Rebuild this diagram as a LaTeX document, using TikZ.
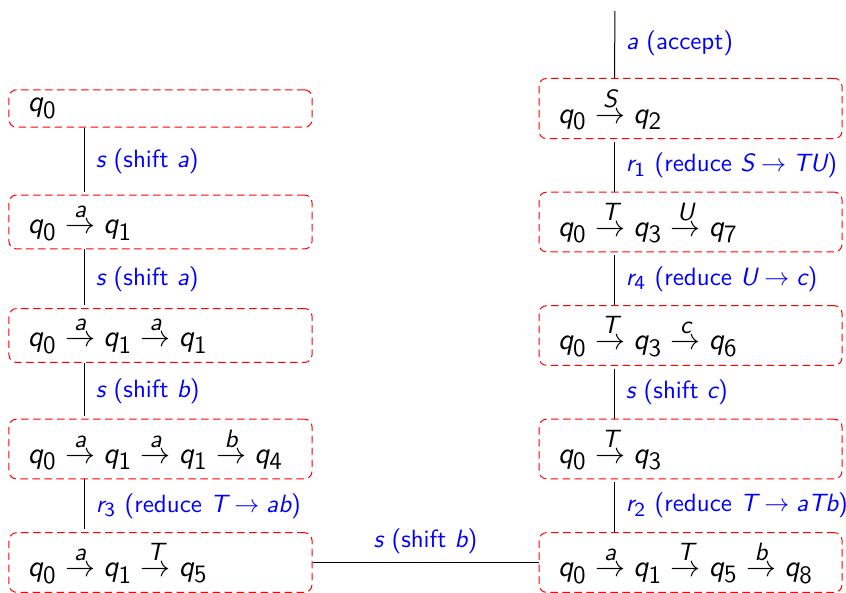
\documentclass[tikz,border=0pt]{standalone}
\renewcommand{\familydefault}{\sfdefault}
\usepackage[italic]{mathastext}
\usetikzlibrary{calc}

\tikzset{
  config/.style={draw=red, dash pattern=on 3pt off 1.8pt, rounded corners=3pt,
    minimum height=14.8pt, text width=106pt, inner xsep=7.6pt, align=left, font=\large},
  act/.style={text=blue, xshift=1pt},
  step line/.style={shorten >=1.2pt},
}
\newcommand{\tr}[1]{\stackrel{#1}{\to}}
\newcommand{\at}[1]{($(#1.south west)!.25!(#1.south east)$)}
\newcommand{\ab}[1]{($(#1.north west)!.25!(#1.north east)$)}

\begin{document}
\begin{tikzpicture}
  \useasboundingbox (0,0) rectangle (338.4pt,-236.8pt);
  % left column
  \node[config] (c1) at (64.2pt,-43.4pt) {$q_0$};
  \node[config] (c2) at (64.2pt,-88.8pt) {$q_0 \tr{a} q_1$};
  \node[config] (c3) at (64.2pt,-134.2pt) {$q_0 \tr{a} q_1 \tr{a} q_1$};
  \node[config] (c4) at (64.2pt,-179.6pt) {$q_0 \tr{a} q_1 \tr{a} q_1 \tr{b} q_4$};
  \node[config] (c5) at (64.2pt,-225pt) {$q_0 \tr{a} q_1 \tr{T} q_5$};
  % right column
  \node[config] (c6) at (276.2pt,-225pt) {$q_0 \tr{a} q_1 \tr{T} q_5 \tr{b} q_8$};
  \node[config] (c7) at (276.2pt,-179.6pt) {$q_0 \tr{T} q_3$};
  \node[config] (c8) at (276.2pt,-134.2pt) {$q_0 \tr{T} q_3 \tr{c} q_6$};
  \node[config] (c9) at (276.2pt,-88.8pt) {$q_0 \tr{T} q_3 \tr{U} q_7$};
  \node[config] (c10) at (276.2pt,-43.4pt) {$q_0 \tr{S} q_2$};
  \coordinate (top) at (246pt,-3.2pt);

  % steps
  \draw[step line] \at{c1} -- \ab{c2} node[midway, right, act] {$s$ (shift $a$)};
  \draw[step line] \at{c2} -- \ab{c3} node[midway, right, act] {$s$ (shift $a$)};
  \draw[step line] \at{c3} -- \ab{c4} node[midway, right, act] {$s$ (shift $b$)};
  \draw[step line] \at{c4} -- \ab{c5} node[midway, right, act] {$r_3$ (reduce $T \to ab$)};
  \draw (c5.east) -- (c6.west) node[midway, above, text=blue] {$s$ (shift $b$)};
  \draw[step line] \ab{c6} -- \at{c7} node[midway, right, act] {$r_2$ (reduce $T \to aTb$)};
  \draw[step line] \ab{c7} -- \at{c8} node[midway, right, act] {$s$ (shift $c$)};
  \draw[step line] \ab{c8} -- \at{c9} node[midway, right, act] {$r_4$ (reduce $U \to c$)};
  \draw[step line] \ab{c9} -- \at{c10} node[midway, right, act] {$r_1$ (reduce $S \to TU$)};
  \draw[step line] \ab{c10} -- (top) node[midway, right, act] {$a$ (accept)};
\end{tikzpicture}
\end{document}
